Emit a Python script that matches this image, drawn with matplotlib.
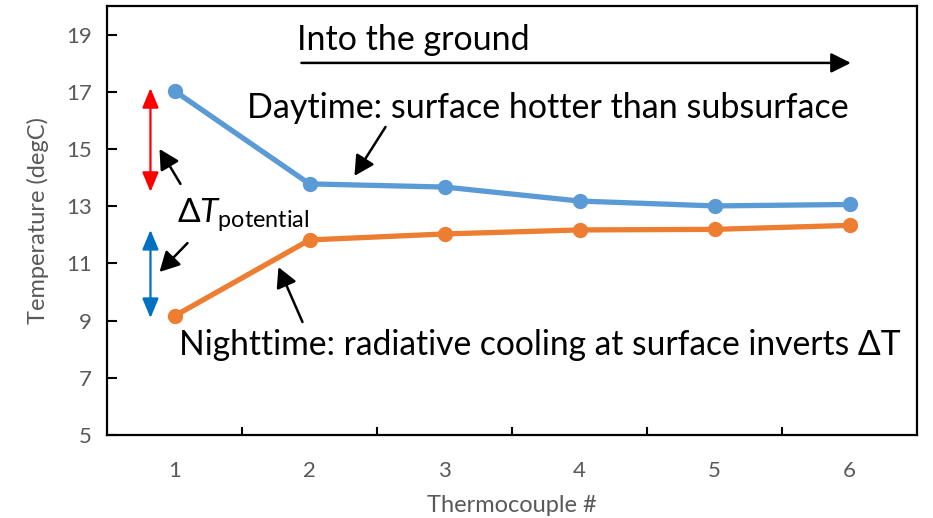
import matplotlib
matplotlib.use("Agg")
import matplotlib.pyplot as plt
from matplotlib.patches import FancyArrowPatch

plt.rcParams['font.family'] = ['Lato', 'DejaVu Sans']
plt.rcParams['mathtext.fontset'] = 'custom'
plt.rcParams['mathtext.rm'] = 'Lato'
plt.rcParams['mathtext.it'] = 'Lato:italic'

thermocouples = [1, 2, 3, 4, 5, 6]
daytime = [17.03, 13.78, 13.67, 13.18, 13.01, 13.06]
nighttime = [9.16, 11.82, 12.03, 12.17, 12.19, 12.33]
yticks = [5, 7, 9, 11, 13, 15, 17, 19]

blue = '#5B9BD5'
orange = '#ED7D31'
gray = '#595959'

fig = plt.figure(figsize=(9.33, 5.18), dpi=100)
ax = fig.add_axes([107/933, 83/518, 810/933, 429/518])

ax.plot(thermocouples, daytime, color=blue, lw=3.8, marker='o', ms=10, solid_capstyle='round', zorder=3)
ax.plot(thermocouples, nighttime, color=orange, lw=3.8, marker='o', ms=10, solid_capstyle='round', zorder=3)

ax.set_xlim(0.5, 6.5)
ax.set_ylim(5, 20)
ax.set_yticks(yticks)
ax.set_xticks(thermocouples)
ax.set_xticks([1.5, 2.5, 3.5, 4.5, 5.5], minor=True)
ax.tick_params(axis='x', which='major', length=0, pad=19, labelsize=16, labelcolor=gray)
ax.tick_params(axis='x', which='minor', length=6, width=1.5, direction='in', color='black')
ax.tick_params(axis='y', which='major', length=7, width=1.5, direction='in', pad=11, labelsize=16, labelcolor=gray)
for s in ax.spines.values():
    s.set_linewidth(1.6)
    s.set_color('black')

ax.set_xlabel('Thermocouple #', fontsize=17, color=gray, labelpad=10)
ax.set_ylabel('Temperature (degC)', fontsize=17, color=gray, labelpad=12)

tfs = 24.5
hs = '-|>,head_length=0.6,head_width=0.32'
ax.text(1.904, 18.81, 'Into the ground', fontsize=tfs, va='center', ha='left')
ax.add_patch(FancyArrowPatch((1.94, 18.01), (6.01, 18.01), arrowstyle='-|>,head_length=0.6,head_width=0.3',
                             mutation_scale=20, lw=1.8, color='black', shrinkA=0, shrinkB=0))
ax.text(1.54, 16.43, 'Daytime: surface hotter than subsurface', fontsize=tfs, va='center', ha='left')
ax.add_patch(FancyArrowPatch((2.563, 15.77), (2.333, 14.06), arrowstyle=hs,
                             mutation_scale=20, lw=1.8, color='black', shrinkA=0, shrinkB=0))
ax.text(1.022, 12.72, r'$\Delta\mathit{T}_{\mathrm{potential}}$', fontsize=24, va='center', ha='left')
ax.add_patch(FancyArrowPatch((1.044, 13.78), (0.889, 15.0), arrowstyle=hs,
                             mutation_scale=20, lw=1.8, color='black', shrinkA=0, shrinkB=0))
ax.add_patch(FancyArrowPatch((1.096, 11.71), (0.889, 10.70), arrowstyle=hs,
                             mutation_scale=20, lw=1.8, color='black', shrinkA=0, shrinkB=0))
ax.text(1.037, 8.15, 'Nighttime: radiative cooling at surface inverts ΔT', fontsize=24.2, va='center', ha='left')
ax.add_patch(FancyArrowPatch((1.948, 8.95), (1.770, 10.87), arrowstyle=hs,
                             mutation_scale=20, lw=1.8, color='black', shrinkA=0, shrinkB=0))

ax.add_patch(FancyArrowPatch((0.822, 13.50), (0.822, 17.13), arrowstyle='<|-|>,head_length=0.6,head_width=0.25',
                             mutation_scale=20, lw=1.6, color='#FF0000', shrinkA=0, shrinkB=0))
ax.add_patch(FancyArrowPatch((0.822, 9.09), (0.822, 12.17), arrowstyle='<|-|>,head_length=0.6,head_width=0.25',
                             mutation_scale=20, lw=1.6, color='#0070C0', shrinkA=0, shrinkB=0))

fig.savefig('out.png', dpi=100)
